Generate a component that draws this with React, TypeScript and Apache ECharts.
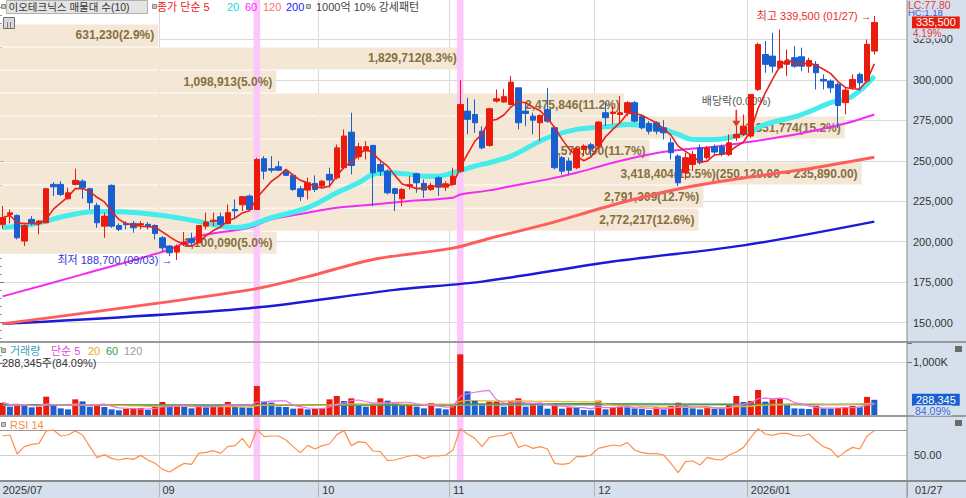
import React, { useEffect, useRef } from "react";
import * as echarts from "echarts";

const FONT = '"Liberation Sans", "Noto Sans CJK KR", sans-serif';
const RED = "#ea1b0c";
const BLUE = "#195fd0";
const PANEL_BG = "#d6e0ec";
const BAND_FILL = "#f4e7d6";
const BAND_TEXT = "#85703f";
const PINK = "#fcc8fb";
const GRID_LINE = "#dadada";

// ---------- data ----------
// [open, close, low, high]
const ohlc: number[][] = [
  [210700, 214800, 208000, 222000], [216800, 217800, 211300, 219900], [216200, 202400, 201400, 216800],
  [200400, 210000, 197300, 210700], [213800, 211300, 210000, 215800], [211300, 212700, 204500, 213300],
  [211700, 232700, 211300, 233300], [235400, 233900, 228200, 236800], [235400, 229200, 228200, 237400],
  [226500, 230200, 226100, 233300], [235400, 237900, 234800, 245100], [237400, 233300, 226500, 238500],
  [232700, 224100, 219900, 233300], [222400, 211700, 208600, 224100], [209600, 215800, 202400, 217900],
  [234800, 209600, 208600, 235400], [210000, 207600, 206500, 211300], [211300, 210500, 207600, 212700],
  [211300, 208600, 205500, 212700], [210300, 211100, 207600, 212700], [210700, 209200, 207600, 212100],
  [210000, 205100, 201400, 210700], [202400, 196200, 194200, 203500], [197300, 193200, 191100, 197700],
  [193600, 197300, 188700, 198300], [198300, 199700, 197300, 205900], [201800, 199300, 197300, 205500],
  [199300, 210000, 198900, 210000], [209600, 212100, 207600, 217900], [212500, 213300, 209600, 217900],
  [215400, 210700, 208600, 217900], [211300, 217900, 210700, 223000], [219900, 219100, 213800, 226100],
  [222800, 227800, 218900, 228200], [228200, 219900, 218900, 229200], [219900, 250800, 219500, 251900],
  [251300, 243600, 238500, 252900], [245100, 244200, 242600, 252900], [246300, 244200, 243600, 249800],
  [243600, 241000, 240500, 244700], [241000, 232300, 231300, 242000], [232700, 227800, 225100, 234400],
  [231900, 236400, 226100, 239500], [236000, 232300, 230700, 241000], [234400, 237400, 233300, 238100],
  [241600, 238100, 233300, 245700], [239500, 258000, 238500, 260100], [245700, 265300, 244700, 269400],
  [267700, 247100, 241600, 279700], [252500, 258700, 250800, 261100], [256000, 258700, 250800, 262200],
  [259500, 242600, 222000, 259900], [247700, 243600, 240500, 249800], [243600, 230200, 229200, 244700],
  [232700, 229800, 218900, 233300], [226500, 232300, 222000, 233300], [234400, 235200, 232300, 240500],
  [242000, 236400, 230200, 242600], [236000, 231900, 227100, 238500], [232300, 234800, 231300, 236400],
  [239500, 233700, 228200, 240500], [233700, 235800, 231300, 237400], [235400, 240500, 234800, 245700],
  [243600, 284800, 242600, 299900], [280700, 275600, 266300, 288900], [278600, 273500, 267300, 287900],
  [268300, 258000, 257000, 271400], [259500, 282200, 258700, 282800], [286900, 288300, 285900, 294100],
  [286300, 289600, 285900, 294500], [284800, 298600, 284200, 302300], [295100, 273500, 269400, 295100],
  [280700, 279300, 271400, 285900], [277600, 275100, 266300, 279700], [273500, 278000, 262200, 278600],
  [281700, 274500, 273500, 295100], [270400, 245700, 244700, 271400], [251900, 243600, 241600, 252900],
  [249800, 244200, 241600, 251900], [245700, 257400, 244700, 258700], [257000, 259100, 252900, 260100],
  [259900, 257400, 252900, 261100], [259100, 273900, 258000, 274500], [279700, 276600, 271400, 285900],
  [279300, 280100, 272500, 283800], [278600, 279700, 273500, 290000], [279700, 285900, 277600, 286900],
  [285900, 274500, 273500, 286900], [277600, 270400, 269400, 278600], [273100, 268300, 266300, 274500],
  [273500, 268300, 266300, 274500], [270400, 267300, 263200, 275100], [261100, 255000, 250800, 264200],
  [252900, 236400, 234400, 253900], [242600, 251900, 238500, 255000], [247700, 253900, 243600, 256000],
  [258000, 248800, 247700, 260100], [251900, 258000, 250800, 259100], [258700, 255400, 252900, 260100],
  [258700, 253900, 252900, 260100], [253900, 261100, 252900, 266300], [264200, 266300, 262200, 271400],
  [266300, 271400, 265300, 278600], [265300, 291000, 264200, 291000], [294100, 321900, 293100, 322900],
  [315700, 309600, 304400, 324000], [314700, 308500, 304400, 329100], [307500, 311600, 306500, 331200],
  [309600, 311600, 302300, 318800], [313700, 308500, 307500, 320900], [314300, 308500, 305400, 319900],
  [308500, 312000, 304400, 313700], [309600, 304400, 294100, 311600], [300300, 299300, 294100, 303400],
  [299300, 295100, 292000, 300300], [297200, 284200, 270400, 298200], [285900, 293700, 278700, 295100],
  [295100, 300300, 294100, 303400], [303400, 298200, 293100, 304400], [299300, 322000, 298200, 325000],
  [317800, 335500, 315700, 339500],
];

const volumes = [
  234000, 158000, 209000, 171000, 145000, 158000, 348000, 171000, 126000, 107000,
  297000, 259000, 158000, 171000, 152000, 107000, 89000, 120000, 126000, 133000,
  95000, 158000, 247000, 158000, 190000, 158000, 126000, 190000, 145000, 190000,
  196000, 247000, 152000, 145000, 139000, 550000, 253000, 234000, 158000, 152000,
  120000, 126000, 107000, 114000, 126000, 297000, 361000, 266000, 316000, 183000,
  158000, 209000, 316000, 272000, 221000, 190000, 209000, 158000, 126000, 228000,
  126000, 107000, 177000, 1151000, 449000, 272000, 209000, 253000, 259000, 158000,
  259000, 316000, 158000, 209000, 202000, 120000, 196000, 120000, 145000, 139000,
  95000, 89000, 272000, 107000, 133000, 158000, 145000, 126000, 114000, 95000,
  145000, 107000, 171000, 234000, 190000, 126000, 107000, 145000, 120000, 114000,
  196000, 361000, 247000, 266000, 474000, 253000, 297000, 316000, 190000, 126000,
  120000, 114000, 171000, 126000, 120000, 133000, 145000, 171000, 158000, 342900,
  288345,
];

const rsi14 = [
  65.2, 66.0, 50.8, 56.7, 58.5, 59.3, 69.2, 70.0, 65.2, 66.0,
  69.2, 66.0, 56.7, 47.9, 50.3, 47.3, 46.0, 47.3, 46.5, 49.7,
  46.0, 43.3, 38.5, 36.4, 40.1, 43.3, 42.5, 51.3, 52.1, 53.5,
  51.3, 56.7, 57.5, 63.3, 55.6, 70.5, 64.7, 65.2, 65.2, 62.0,
  56.7, 51.9, 57.7, 54.8, 57.5, 58.8, 66.3, 69.5, 57.5, 60.7,
  59.9, 53.2, 52.7, 45.5, 46.0, 47.6, 49.2, 50.0, 47.1, 49.2,
  49.2, 50.0, 54.0, 71.1, 66.8, 63.3, 56.7, 64.1, 65.2, 65.7,
  68.1, 56.1, 58.0, 55.3, 56.7, 54.8, 43.3, 42.5, 43.3, 48.7,
  48.7, 50.0, 55.3, 56.7, 58.0, 57.2, 59.9, 54.0, 51.9, 51.1,
  51.1, 50.0, 43.3, 35.9, 44.7, 45.2, 42.0, 48.1, 46.5, 46.0,
  50.0, 52.4, 56.1, 64.1, 71.1, 66.8, 65.7, 67.3, 67.3, 65.5,
  65.2, 66.8, 61.2, 56.7, 54.5, 48.1, 52.7, 56.1, 54.8, 65.2,
  69.5,
];

// moving averages: [candle index, price]
const ma20Pts = [
  [0, 208800], [4, 210700], [9, 216200], [13, 218700], [18, 218100], [23, 215600], [27, 212500],
  [32, 208800], [34, 210000], [37, 214800], [42, 221000], [46, 230300], [49, 236400], [51, 241600],
  [53, 242600], [56, 241600], [58, 240500], [60, 240500], [62, 242600], [65, 246700], [67, 248800],
  [70, 252900], [75, 264200], [79, 269400], [84, 271400], [86, 272500], [89, 271400], [91, 269400],
  [93, 266300], [95, 263200], [98, 263200], [100, 264200], [103, 268300], [105, 272500], [110, 278600],
  [114, 285900], [117, 290000], [120, 302300],
];
const ma60Pts = [
  [0, 166200], [11, 179800], [23, 195200], [27, 203400], [34, 208600], [37, 213800], [42, 217900],
  [46, 221000], [51, 223000], [56, 225100], [62, 227200], [63, 229200], [67, 231700], [70, 234300],
  [75, 238500], [79, 242600], [84, 248800], [89, 253900], [93, 256600], [98, 258700], [102, 261200],
  [105, 263200], [110, 267000], [116, 273000], [120, 278600],
];
const ma120Pts = [
  [0, 149200], [34, 170200], [42, 178400], [51, 189000], [62, 196000], [67, 202000], [75, 211000],
  [84, 222700], [93, 232500], [102, 239400], [110, 244400], [120, 252200],
];
const ma200Pts = [
  [0, 149200], [34, 158900], [54, 170200], [66, 175300], [84, 187700], [102, 197700], [120, 212400],
];
const volMa60Pts = [[0, 195000], [30, 190000], [62, 188000], [63, 207000], [80, 215000], [100, 205000], [110, 200000], [120, 205000]];
const volMa120Pts = [[0, 180000], [60, 185000], [120, 195000]];

const monthStarts = [0, 22, 44, 62, 82, 103];
const monthLabels = ["2025/07", "09", "10", "11", "12", "2026/01"];
const SLOT_COUNT = 125;
const lastDateLabel = "01/27";
const strongDays = [35, 63];

// volume profile (매물대), bottom to top
const bandEdges = [193200, 207430, 221660, 235890, 250120, 264350, 278580, 292810, 307040, 321270, 335500];
const bandVolumes = [1100090, 2772217, 2791309, 3418404, 2578090, 3351774, 2475846, 1098913, 1829712, 631230];

const highDate = "01/27";
const lowDate = "09/03";
const exDivIndex = 101;
const exDivText = "배당락(0.00%)";
const statLC = "LC:77.80";
const statHC = "HC:1.18";
const rsiLevels = [50, 70];

// ---------- helpers ----------
const fmt = (v: number) => Math.round(v).toLocaleString("en-US");
const fmt2 = (v: number) => v.toLocaleString("en-US", { minimumFractionDigits: 2, maximumFractionDigits: 2 });
function sma(values: number[], n: number) {
  return values.map((_, i) => {
    const s = Math.max(0, i - n + 1);
    let sum = 0;
    for (let k = s; k <= i; k++) sum += values[k];
    return Math.round(sum / (i - s + 1));
  });
}

const PANELS = [
  [-2, 342],
  [342, 416],
  [416, 481],
];

function buildOption() {
  const closes = ohlc.map((d) => d[1]);
  const last = closes.length - 1;
  const lastClose = closes[last];
  const chgPct = ((lastClose / closes[last - 1] - 1) * 100).toFixed(2) + "%";
  const lastVol = volumes[volumes.length - 1];
  const volPct = ((lastVol / volumes[volumes.length - 2]) * 100).toFixed(2) + "%";
  let hiIdx = 0;
  let loIdx = 0;
  ohlc.forEach((d, i) => {
    if (d[3] > ohlc[hiIdx][3]) hiIdx = i;
    if (d[2] < ohlc[loIdx][2]) loIdx = i;
  });

  const categories = Array.from({ length: SLOT_COUNT }, (_, i) => String(i));
  const labelAt = new Map<number, string>(monthStarts.map((s, k) => [s, monthLabels[k]]));
  const isStart = (i: number) => labelAt.has(i);
  const isLine = (i: number) => labelAt.has(i) && i > 0;

  const bandTotal = bandVolumes.reduce((a, b) => a + b, 0);
  const maxBand = Math.max(...bandVolumes);
  const pocIdx = bandVolumes.indexOf(maxBand);
  const bandLabels = bandVolumes.map(
    (v, k) =>
      `${fmt(v)}(${((v / bandTotal) * 100).toFixed(1)}%)` +
      (k === pocIdx ? `(${fmt2(bandEdges[k + 1])} ~ ${fmt2(bandEdges[k])})` : "")
  );
  const bandData = bandVolumes.map((v, k) => [bandEdges[k], bandEdges[k + 1], v]);

  const catAxis = (gridIndex: number, bottom: boolean) => ({
    type: "category",
    gridIndex,
    data: categories,
    boundaryGap: true,
    axisLine: { show: false, onZero: false },
    axisTick: {
      show: bottom,
      interval: (i: number) => isLine(i),
      length: 17,
      lineStyle: { color: "#b4b4b4" },
    },
    axisLabel: {
      show: bottom,
      interval: (i: number) => isStart(i),
      formatter: (_v: string, i: number) => labelAt.get(i) ?? "",
      align: "left",
      margin: 4,
      color: "#333",
      fontSize: 11,
      fontFamily: FONT,
    },
    splitLine: { show: true, interval: (i: number) => isLine(i), lineStyle: { color: GRID_LINE } },
  });

  const pinkSeries = (panel: number, xAxisIndex: number, yAxisIndex: number) => ({
    type: "custom",
    xAxisIndex,
    yAxisIndex,
    z: 2,
    silent: true,
    clip: false,
    encode: { x: 0 },
    data: strongDays.map((d) => [d]),
    renderItem: (_p: any, api: any) => {
      const cx = api.coord([api.value(0), yAxisIndex === 2 ? 50 : yAxisIndex === 1 ? 0 : 200000])[0];
      const w = api.size([1, 0])[0];
      const [top, bot] = PANELS[panel];
      return {
        type: "rect",
        shape: { x: cx - w / 2 + 0.3, y: top, width: w - 0.6, height: bot - top },
        style: { fill: PINK },
      };
    },
  });

  const lineSeries = (name: string, data: any, color: string, width: number, xAxisIndex: number, yAxisIndex: number, z: number, smooth: any = false) => ({
    type: "line",
    name,
    data,
    xAxisIndex,
    yAxisIndex,
    z,
    smooth,
    showSymbol: false,
    silent: true,
    lineStyle: { color, width },
    itemStyle: { color },
  });

  const txt = (x: number, y: number, text: string, color: string, extra: any = {}) => ({
    type: "text",
    x,
    y,
    z: extra.z ?? 21,
    silent: true,
    style: {
      text,
      fill: color,
      fontSize: extra.fontSize ?? 11,
      fontFamily: FONT,
      fontWeight: extra.fontWeight ?? "normal",
      align: "left",
      textAlign: "left",
      verticalAlign: "middle",
      textVerticalAlign: "middle",
      backgroundColor: extra.bg,
      padding: extra.bg ? [0, 1] : undefined,
    },
  });
  const sq = (x: number, y: number) => ({
    type: "rect",
    z: 21,
    silent: true,
    shape: { x, y, width: 4, height: 4 },
    style: { fill: "#c4c4c4", stroke: "#8a8a8a", lineWidth: 1 },
  });
  const hline = (y: number, x1: number, x2: number, color: string, w: number) => ({
    type: "line",
    z: 20,
    silent: true,
    shape: { x1, y1: y, x2, y2: y },
    style: { stroke: color, lineWidth: w },
  });

  const graphicEls: any[] = [
    // axis panels
    { type: "rect", z: -10, silent: true, shape: { x: 907, y: 0, width: 59, height: 498 }, style: { fill: PANEL_BG } },
    { type: "rect", z: -10, silent: true, shape: { x: 0, y: 481, width: 907, height: 17 }, style: { fill: PANEL_BG } },
    // separators
    hline(342, 0, 966, "#9a9a9a", 2),
    hline(416, 0, 966, "#9a9a9a", 2),
    hline(481, 0, 966, "#8a8a8a", 2),
    { type: "line", z: 20, silent: true, shape: { x1: 907, y1: 0, x2: 907, y2: 498 }, style: { stroke: "#8a8a8a", lineWidth: 1 } },
    // top legend
    sq(1.5, 4.5),
    { type: "rect", z: 20, silent: true, shape: { x: 6.5, y: 0.5, width: 141, height: 13 }, style: { fill: "#e4e4e4", stroke: "#b0b0b0", lineWidth: 1 } },
    txt(8.5, 7, "이오테크닉스 매물대 수(10)", "#333", { fontSize: 10.5 }),
    sq(152.5, 4.5),
    txt(157, 7, "종가 단순 5", "#f02020"),
    txt(227, 7, "20", "#10d8e0"),
    txt(245, 7, "60", "#ff20ff"),
    txt(263, 7, "120", "#ff7070"),
    txt(286, 7, "200", "#2020ff"),
    sq(306.5, 4.5),
    txt(316, 7, "1000억 10% 강세패턴", "#444"),
    // calendar icon
    { type: "rect", z: 21, silent: true, shape: { x: 3.5, y: 17.5, width: 11, height: 11 }, style: { fill: "#d8d8d8", stroke: "#707070", lineWidth: 1 } },
    hline(21.5, 4, 14, "#808080", 1),
    { type: "line", z: 21, silent: true, shape: { x1: 7.5, y1: 22, x2: 7.5, y2: 28 }, style: { stroke: "#808080", lineWidth: 1 } },
    { type: "line", z: 21, silent: true, shape: { x1: 10.5, y1: 22, x2: 10.5, y2: 28 }, style: { stroke: "#808080", lineWidth: 1 } },
    // volume legend
    sq(1.5, 348.5),
    txt(10, 350.5, "거래량", "#3c9fb4"),
    txt(51, 350.5, "단순 5", "#e04ce0"),
    txt(88, 350.5, "20", "#f0a818"),
    txt(106, 350.5, "60", "#2e9e4a"),
    txt(124, 350.5, "120", "#999999"),
    txt(2, 362.5, `${fmt(lastVol)}주(${volPct})`, "#333"),
    // rsi legend
    sq(1.5, 422.5),
    txt(10, 424.5, "RSI 14", "#ff8a3c"),
    // right panel texts
    txt(908, 4.5, statLC, "#e03a3a", { fontSize: 10.5 }),
    txt(908, 12.5, statHC, "#3a5ae0", { z: 1, fontSize: 9.5 }),
    txt(912, 33.5, chgPct, "#e03a3a", { bg: PANEL_BG, fontSize: 10 }),
    txt(914, 410.5, volPct, "#3a6ae0", { bg: PANEL_BG, fontSize: 10.5 }),
    txt(915, 490, lastDateLabel, "#333"),
    { type: "rect", z: 21, silent: true, shape: { x: 955, y: 346, width: 7, height: 6 }, style: { fill: "#6a6a6a" } },
    { type: "rect", z: 21, silent: true, shape: { x: 955, y: 420, width: 7, height: 6 }, style: { fill: "#6a6a6a" } },
  ];

  const ma5 = sma(closes, 5);
  const volMa5 = sma(volumes, 5);
  const volMa20 = sma(volumes, 20);

  return {
    animation: false,
    backgroundColor: "#fff",
    textStyle: { fontFamily: FONT },
    grid: [
      { left: -1, right: 59, top: -1, height: 364, outerBoundsMode: "none" },
      { left: -1, right: 59, top: 343, height: 72, outerBoundsMode: "none" },
      { left: -1, right: 59, top: 417, height: 63, outerBoundsMode: "none" },
    ],
    xAxis: [
      catAxis(0, false),
      { type: "value", gridIndex: 0, min: 0, max: maxBand / 0.95, show: false },
      catAxis(1, false),
      catAxis(2, true),
    ],
    yAxis: [
      {
        type: "value",
        gridIndex: 0,
        position: "right",
        min: 125000,
        max: 350000,
        interval: 25000,
        axisLine: { show: false },
        axisTick: { show: true, length: 5, lineStyle: { color: "#7a7a7a" } },
        minorTick: { show: true, splitNumber: 5, length: 3, lineStyle: { color: "#9a9a9a" } },
        axisLabel: { color: "#333", fontSize: 11, fontFamily: FONT, margin: 6, showMinLabel: false, showMaxLabel: false, formatter: (v: number) => fmt(v) },
        splitLine: { show: true, showMinLine: false, showMaxLine: false, lineStyle: { color: GRID_LINE } },
      },
      {
        type: "value",
        gridIndex: 1,
        position: "right",
        min: 0,
        max: 1366000,
        interval: 1000000,
        axisLine: { show: false },
        axisTick: { show: true, length: 5, lineStyle: { color: "#7a7a7a" } },
        axisLabel: { color: "#333", fontSize: 11, fontFamily: FONT, margin: 6, formatter: (v: number) => (v === 1000000 ? "1,000K" : "") },
        splitLine: { show: true, showMinLine: false, showMaxLine: false, lineStyle: { color: GRID_LINE } },
      },
      {
        type: "value",
        gridIndex: 2,
        position: "right",
        min: 30,
        max: 80.4,
        interval: 10,
        axisLine: { show: false },
        axisTick: { show: false },
        axisLabel: { color: "#333", fontSize: 11, fontFamily: FONT, margin: 7, formatter: (v: number) => (v === 50 ? "50.00" : "") },
        splitLine: { show: false },
      },
    ],
    series: [
      // volume profile bars
      {
        type: "custom",
        name: "매물대",
        xAxisIndex: 1,
        yAxisIndex: 0,
        z: 1,
        silent: true,
        encode: { x: 2, y: [0, 1] },
        data: bandData,
        renderItem: (_p: any, api: any) => {
          const lo = api.value(0);
          const hi = api.value(1);
          const v = api.value(2);
          const a = api.coord([0, hi]);
          const b = api.coord([v, lo]);
          return {
            type: "rect",
            shape: { x: a[0], y: a[1] + 2, width: b[0] - a[0], height: b[1] - a[1] - 1 },
            style: { fill: BAND_FILL },
          };
        },
      },
      pinkSeries(0, 0, 0),
      pinkSeries(1, 2, 1),
      pinkSeries(2, 3, 2),
      // volume profile labels
      {
        type: "custom",
        name: "매물대 라벨",
        xAxisIndex: 1,
        yAxisIndex: 0,
        z: 3,
        silent: true,
        encode: { x: 2, y: [0, 1] },
        data: bandData,
        renderItem: (p: any, api: any) => {
          const lo = api.value(0);
          const hi = api.value(1);
          const v = api.value(2);
          const a = api.coord([v, hi]);
          const b = api.coord([v, lo]);
          return {
            type: "text",
            x: a[0] - 4,
            y: (a[1] + b[1]) / 2 + 1.5,
            style: {
              text: bandLabels[p.dataIndex],
              fill: BAND_TEXT,
              fontSize: 12,
              fontWeight: "bold",
              fontFamily: FONT,
              align: "right",
              textAlign: "right",
              verticalAlign: "middle",
              textVerticalAlign: "middle",
            },
          };
        },
      },
      lineSeries("MA200", ma200Pts, "#1a1ad8", 2.5, 0, 0, 4, 0.3),
      lineSeries("MA120", ma120Pts, "#ff5c5c", 3, 0, 0, 4, 0.3),
      lineSeries("MA60", ma60Pts, "#f22cf2", 2, 0, 0, 4, 0.3),
      lineSeries("MA20", ma20Pts, "#44ecec", 5, 0, 0, 4, 0.4),
      {
        type: "candlestick",
        name: "이오테크닉스",
        xAxisIndex: 0,
        yAxisIndex: 0,
        z: 5,
        barWidth: 6,
        data: ohlc,
        itemStyle: { color: RED, color0: BLUE, borderColor: RED, borderColor0: BLUE, borderWidth: 1 },
        markLine: {
          silent: true,
          animation: false,
          symbol: ["none", "none"],
          lineStyle: { color: "rgba(0,0,0,0)", width: 0 },
          label: {
            show: true,
            position: "end",
            distance: 5,
            formatter: fmt(lastClose),
            color: "#fff",
            backgroundColor: RED,
            padding: [1, 4, 0, 4],
            fontSize: 11,
            fontFamily: FONT,
          },
          data: [{ yAxis: lastClose }],
        },
        markPoint: {
          silent: true,
          animation: false,
          data: [
            {
              coord: [hiIdx, ohlc[hiIdx][3]],
              symbol: "circle",
              symbolSize: 1,
              itemStyle: { color: "rgba(0,0,0,0)" },
              label: { show: true, position: "left", distance: 2, formatter: `최고 ${fmt(ohlc[hiIdx][3])} (${highDate}) →`, color: "#e8302c", fontSize: 11, fontFamily: FONT },
            },
            {
              coord: [loIdx, ohlc[loIdx][2]],
              symbol: "circle",
              symbolSize: 1,
              itemStyle: { color: "rgba(0,0,0,0)" },
              label: { show: true, position: "left", distance: 4, formatter: `최저 ${fmt(ohlc[loIdx][2])} (${lowDate}) →`, color: "#3434d6", fontSize: 11, fontFamily: FONT },
            },
            {
              coord: [exDivIndex, ohlc[exDivIndex][3]],
              symbol: "path://M4,0 L6,0 L6,11 L10,11 L5,17 L0,11 L4,11 Z",
              symbolSize: [8, 17],
              symbolOffset: [0, -8],
              itemStyle: { color: "#e8302c" },
              label: { show: true, position: "top", distance: 3, formatter: exDivText, color: "#555", fontSize: 11, fontFamily: FONT },
            },
          ],
        },
      },
      lineSeries("MA5", ma5, "#e8201a", 1.6, 0, 0, 6),
      // volume
      {
        type: "bar",
        name: "거래량",
        xAxisIndex: 2,
        yAxisIndex: 1,
        z: 5,
        barWidth: 6,
        silent: true,
        data: volumes.map((v, i) => ({ value: v, itemStyle: { color: i === 0 || v >= volumes[i - 1] ? RED : BLUE } })),
        markLine: {
          silent: true,
          animation: false,
          symbol: ["none", "none"],
          lineStyle: { color: "rgba(0,0,0,0)", width: 0 },
          label: {
            show: true,
            position: "end",
            distance: 5,
            formatter: fmt(lastVol),
            color: "#fff",
            backgroundColor: BLUE,
            padding: [1, 4, 0, 4],
            fontSize: 11,
            fontFamily: FONT,
          },
          data: [{ yAxis: lastVol }],
        },
      },
      lineSeries("VMA120", volMa120Pts, "#aaaaaa", 1.2, 2, 1, 6),
      lineSeries("VMA60", volMa60Pts, "#3aa048", 1.5, 2, 1, 6),
      lineSeries("VMA20", volMa20, "#f0b030", 1.2, 2, 1, 6),
      lineSeries("VMA5", volMa5, "#e870e8", 1.2, 2, 1, 6),
      // RSI
      {
        ...lineSeries("RSI 14", rsi14, "#ff8f4a", 1.2, 3, 2, 6),
        markLine: {
          silent: true,
          animation: false,
          symbol: ["none", "none"],
          label: { show: false },
          data: rsiLevels.map((v, k) => ({ yAxis: v, lineStyle: { color: k === 0 ? "#d0d0d0" : "#9a9a9a", type: "solid", width: 1 } })),
        },
      },
    ],
    graphic: { elements: graphicEls },
  };
}

export default function App() {
  const ref = useRef<HTMLDivElement>(null);
  useEffect(() => {
    if (!ref.current) return;
    const chart = echarts.init(ref.current, undefined, { renderer: "svg" });
    chart.setOption(buildOption() as any);
    return () => chart.dispose();
  }, []);
  return (
    <div
      ref={ref}
      style={{ position: "absolute", left: 0, top: 0, width: 966, height: 498, background: "#fff" }}
    />
  );
}
